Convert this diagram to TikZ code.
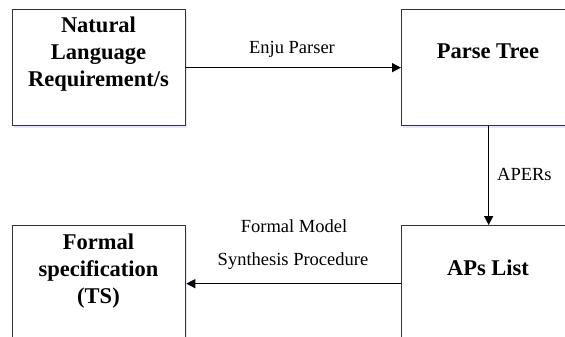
\documentclass[tikz,border=0pt]{standalone}
\usepackage{fontspec}
\setmainfont{Liberation Serif}
\usetikzlibrary{arrows.meta,shadows}
\begin{document}
\begin{tikzpicture}[x=1pt,y=-1pt,
 box/.style={draw=black!80, line width=1.3pt, fill=white, minimum width=173pt, minimum height=116pt, inner sep=0pt, anchor=north west,
   drop shadow={shadow xshift=1pt,shadow yshift=-2.5pt,fill=blue!12,opacity=0.8}},
 boxtext/.style={font=\fontsize{22.5}{27}\selectfont\bfseries, align=center, inner sep=0pt},
 lbl/.style={font=\fontsize{18.5}{20}\selectfont, inner sep=0pt, anchor=base},
 conn/.style={line width=1.3pt, -{Triangle[length=9pt,width=9pt]}}]
\useasboundingbox (0,0) rectangle (565,337);
\clip (0,0) rectangle (565,337);
\node[box] (nl) at (12,9) {};
\node[box, minimum width=174pt] (pt) at (401,9) {};
\node[box] (fs) at (12,225) {};
\node[box, minimum width=174pt] (ap) at (401,225) {};
\node[boxtext, anchor=north] (nlt) at (98.5,16.5) {Natural\\Language\\Requirement/s};
\node[boxtext, anchor=base] (ptt) at (488,59) {Parse Tree};
\node[boxtext, anchor=north] (fst) at (98.5,233.5) {Formal\\specification\\(TS)};
\node[boxtext, anchor=base] (apt) at (488,275) {APs List};
\draw[conn] (nl.east) -- (pt.west);
\draw[conn] (pt.south) -- (ap.north);
\draw[conn] (ap.west) -- (fs.east);
\node[lbl] (l1) at (292,54) {Enju Parser};
\node[lbl, anchor=base west] (l2) at (497,180) {APERs};
\node[lbl] (l3) at (294,232) {Formal Model};
\node[lbl] (l4) at (293,265) {Synthesis Procedure};
\end{tikzpicture}
\end{document}
